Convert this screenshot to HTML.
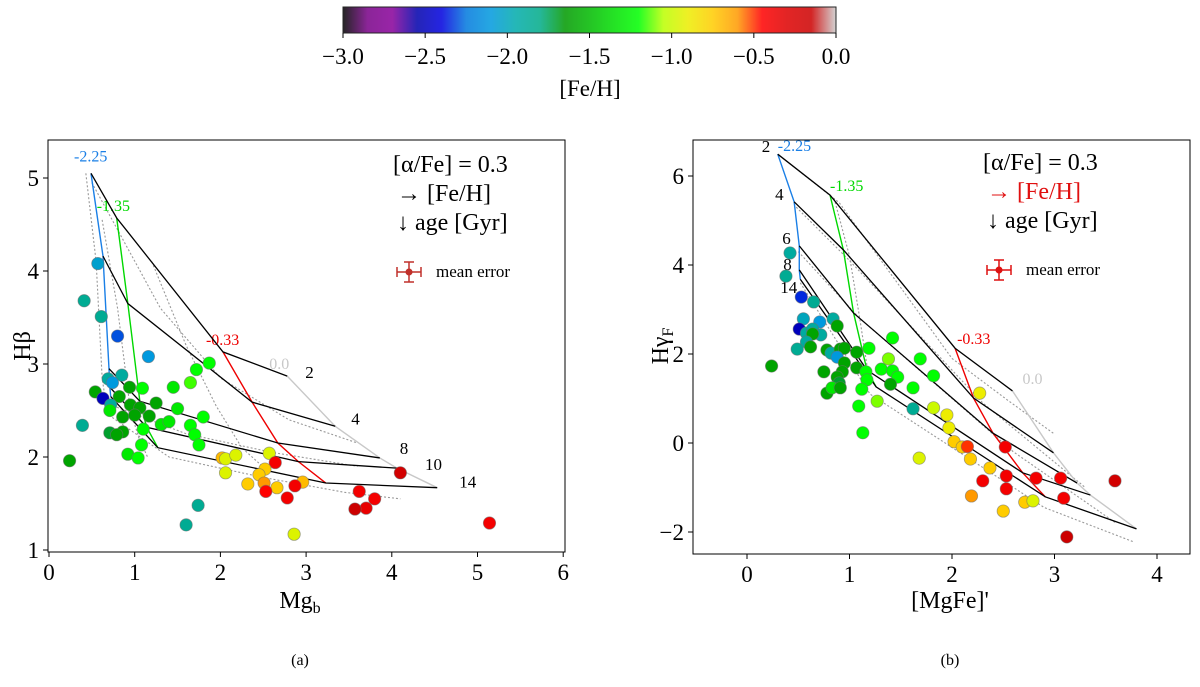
<!DOCTYPE html>
<html><head><meta charset="utf-8"><style>
body{margin:0;background:#fff;width:1200px;height:682px;overflow:hidden}
svg text{font-family:"Liberation Serif",serif}
</style></head><body>
<svg id="fig" width="1200" height="682" viewBox="0 0 1200 682" xmlns="http://www.w3.org/2000/svg">
<defs><linearGradient id="cmap" x1="0" x2="1" y1="0" y2="0"></linearGradient></defs>
<g id="cbar"></g>
<g id="pa"></g>
<g id="pb"></g>
</svg>
<script>
// colormap stops (nipy_spectral)
const cmStops=[[0,0,0,0],[0.05,.47,0,.53],[0.1,.53,0,.6],[0.15,0,0,.67],[0.2,0,0,.87],[0.25,0,.47,.87],[0.3,0,.6,.87],[0.35,0,.67,.67],[0.4,0,.67,.53],[0.45,0,.6,0],[0.5,0,.73,0],[0.55,0,.87,0],[0.6,0,1,0],[0.65,.73,1,0],[0.7,.93,.93,0],[0.75,1,.8,0],[0.8,1,.6,0],[0.85,1,0,0],[0.9,.87,0,0],[0.95,.8,0,0],[1,.8,.8,.8]];
const cbTicks=[-3.0,-2.5,-2.0,-1.5,-1.0,-0.5,0.0];

// Panel a data
const aX=[0.57,0.41,0.61,0.80,1.16,1.87,1.72,1.65,1.45,1.09,0.85,0.94,0.69,0.74,0.54,0.63,0.82,0.72,0.95,1.06,1.25,1.50,1.80,0.86,1.00,1.17,0.71,1.31,1.40,1.65,0.39,0.71,0.86,0.79,1.10,1.70,1.08,1.75,0.92,1.04,0.24,2.02,2.06,2.18,2.57,2.64,2.06,2.52,2.45,2.32,2.51,2.66,2.53,2.96,2.87,2.78,4.10,3.62,3.80,3.70,3.57,1.74,1.60,2.86,5.14];
const aY=[4.08,3.68,3.51,3.30,3.08,3.01,2.94,2.80,2.75,2.74,2.88,2.75,2.84,2.80,2.70,2.63,2.65,2.56,2.56,2.53,2.58,2.52,2.43,2.43,2.45,2.44,2.50,2.35,2.38,2.34,2.34,2.26,2.27,2.24,2.30,2.24,2.13,2.13,2.03,1.99,1.96,1.99,1.98,2.02,2.04,1.94,1.83,1.87,1.81,1.71,1.72,1.67,1.63,1.73,1.69,1.56,1.83,1.63,1.55,1.45,1.44,1.48,1.27,1.17,1.29];
const aFe=[-2.05,-1.85,-1.85,-2.3,-2.1,-1.2,-1.2,-1.15,-1.3,-1.2,-1.9,-1.6,-1.9,-2.1,-1.6,-2.5,-1.6,-1.9,-1.6,-1.6,-1.6,-1.3,-1.2,-1.6,-1.6,-1.6,-1.3,-1.3,-1.3,-1.2,-1.85,-1.7,-1.6,-1.6,-1.2,-1.2,-1.2,-1.2,-1.3,-1.2,-1.6,-0.7,-0.95,-0.95,-0.95,-0.4,-0.95,-0.75,-0.75,-0.75,-0.6,-0.75,-0.45,-0.7,-0.4,-0.4,-0.2,-0.4,-0.4,-0.35,-0.15,-1.85,-1.85,-0.95,-0.4];
const aAges=["2","4","8","10","14"];
const aMets=["-2.25","-1.35","-0.33","0.0"];
const aGX=[[0.49,0.79,2.03,2.78],[0.63,0.92,2.37,3.34],[0.70,1.06,2.67,3.86],[0.71,1.14,2.91,4.06],[0.72,1.27,3.23,4.53]];
const aGY=[[5.05,4.57,3.13,2.87],[4.16,3.65,2.59,2.33],[2.95,2.60,2.15,1.99],[2.75,2.32,1.95,1.88],[2.65,2.10,1.72,1.67]];
const aDotX=[[0.43,0.55,0.62,0.66,0.70],[0.62,0.80,0.95,1.05,1.15],[1.20,1.60,1.95,2.25,2.55],[0.50,1.30,2.00,2.80,3.60],[0.75,1.60,2.60,3.60],[0.70,1.40,2.50,3.45,4.1]];
const aDotY=[[5.05,4.10,2.85,2.60,2.45],[4.55,3.60,2.50,2.20,2.00],[4.10,3.20,2.55,2.10,1.85],[4.95,3.60,2.85,2.40,2.15],[2.55,2.25,2.05,1.90],[2.45,2.00,1.78,1.62,1.55]];

// Panel b data
const bX=[0.42,0.38,0.53,0.65,0.55,0.71,0.84,0.88,0.51,0.58,0.64,0.72,0.64,0.58,0.49,0.62,0.78,0.82,0.91,0.95,1.07,0.88,0.95,0.24,0.75,0.93,1.07,0.88,0.90,0.78,0.83,0.91,1.16,1.17,1.12,1.19,1.31,1.38,1.42,1.47,1.40,1.42,1.62,1.69,1.82,1.09,1.27,1.62,1.13,1.68,1.82,1.95,1.97,2.02,2.10,2.15,2.18,2.27,2.37,2.52,2.53,2.30,2.53,2.19,2.50,2.71,2.79,2.82,3.06,3.09,3.59,3.12];
const bY=[4.27,3.75,3.28,3.17,2.79,2.72,2.79,2.63,2.56,2.47,2.56,2.43,2.45,2.27,2.11,2.16,2.09,2.02,2.11,2.13,2.04,1.93,1.80,1.73,1.60,1.60,1.69,1.48,1.35,1.12,1.24,1.24,1.60,1.42,1.21,2.13,1.66,1.89,1.62,1.48,1.32,2.36,1.24,1.89,1.51,0.83,0.94,0.77,0.23,-0.34,0.79,0.63,0.34,0.03,-0.09,-0.08,-0.36,1.12,-0.56,-0.09,-0.74,-0.85,-1.03,-1.19,-1.53,-1.33,-1.30,-0.79,-0.79,-1.24,-0.85,-2.11];
const bFe=[-1.9,-1.85,-2.35,-1.85,-2.0,-2.1,-1.9,-1.6,-2.5,-1.9,-1.9,-1.9,-1.6,-1.9,-1.85,-1.6,-1.6,-1.9,-1.6,-1.6,-1.6,-2.1,-1.6,-1.6,-1.6,-1.6,-1.6,-1.6,-1.7,-1.6,-1.3,-1.6,-1.2,-1.2,-1.2,-1.2,-1.2,-1.1,-1.2,-1.2,-1.6,-1.2,-1.2,-1.2,-1.2,-1.2,-1.1,-1.85,-1.2,-0.95,-1.0,-0.9,-0.9,-0.75,-0.75,-0.5,-0.75,-0.9,-0.75,-0.4,-0.4,-0.4,-0.4,-0.6,-0.75,-0.75,-0.95,-0.4,-0.4,-0.4,-0.2,-0.15];
const bAges=["2","4","6","8","14"];
const bMets=["-2.25","-1.35","-0.33","0.0"];
const bGX=[[0.30,0.81,2.03,2.59],[0.46,0.94,2.21,2.99],[0.51,1.04,2.40,3.22],[0.51,1.17,2.69,3.35],[0.52,1.26,2.91,3.80]];
const bGY=[[6.49,5.57,2.13,1.17],[5.42,4.34,1.01,-0.22],[4.43,2.92,0.22,-0.90],[3.89,1.64,-0.67,-1.17],[3.68,1.26,-1.21,-1.93]];
const bDotX=[[0.35,0.90,2.00,2.55,3.0],[0.52,1.20,2.90,3.77],[0.50,1.10,2.60,3.60],[0.48,1.00,2.30,3.30],[0.85,1.00,1.10,1.20]];
const bDotY=[[6.40,5.40,1.90,0.95,0.2],[3.60,1.10,-1.45,-2.22],[4.30,2.80,-0.20,-1.80],[5.30,4.10,0.90,-1.00],[5.50,4.20,2.80,1.30]];

const NS="http://www.w3.org/2000/svg";
function mk(tag,attrs,parent){const e=document.createElementNS(NS,tag);for(const k in attrs)e.setAttribute(k,attrs[k]);parent.appendChild(e);return e;}
function cmap(t){t=Math.max(0,Math.min(1,t));for(let i=1;i<cmStops.length;i++){const a=cmStops[i-1],b=cmStops[i];if(t<=b[0]){const f=(t-a[0])/(b[0]-a[0]);const c=[1,2,3].map(j=>Math.round(255*(a[j]+f*(b[j]-a[j]))));return `rgb(${c[0]},${c[1]},${c[2]})`;}}return "rgb(204,204,204)";}
function feColor(v){return cmap((v+3)/3);}

const grad=document.getElementById('cmap');
cmStops.forEach(s=>{mk('stop',{offset:s[0],'stop-color':cmap(s[0])},grad);});
const cb=document.getElementById('cbar');
const cbx=v=>343+(v+3)/3*493;
const cbr=mk('rect',{x:343,y:7,width:493,height:26,fill:'url(#cmap)',stroke:'#000','stroke-width':1,opacity:0.85},cb);


cbTicks.forEach(v=>{mk('line',{x1:cbx(v),x2:cbx(v),y1:33,y2:38,stroke:'#000'},cb);
 const t=mk('text',{x:cbx(v),y:64,'font-size':23,'text-anchor':'middle'},cb);t.textContent=(v<0?'\u2212':'')+Math.abs(v).toFixed(1);
 
 });
const cbl=mk('text',{x:590,y:96,'font-size':23,'text-anchor':'middle'},cb);cbl.textContent='[Fe/H]';



function panel(g,o){
 const sx=v=>o.x0+(v-o.xa)*o.kx, sy=v=>o.y0-(v-o.ya)*o.ky;
 const ax=mk('rect',{x:o.L,y:o.T,width:o.R-o.L,height:o.B-o.T,fill:'none',stroke:'#000','stroke-width':1},g);
 
 
 o.xt.forEach(v=>{const X=sx(v);mk('line',{x1:X,x2:X,y1:o.B,y2:o.B+5,stroke:'#000'},g);
  const t=mk('text',{x:X,y:o.B+28,'font-size':23,'text-anchor':'middle'},g);t.textContent=(v<0?'\u2212':'')+Math.abs(v);
  
  });
 o.yt.forEach(v=>{const Y=sy(v);mk('line',{x1:o.L-5,x2:o.L,y1:Y,y2:Y,stroke:'#000'},g);
  const t=mk('text',{x:o.L-9,y:Y+8,'font-size':23,'text-anchor':'end'},g);t.textContent=(v<0?'\u2212':'')+Math.abs(v);
  
  });
 o.dx.forEach((xs,i)=>{const p=mk('polyline',{points:xs.map((x,j)=>sx(x)+','+sy(o.dy[i][j])).join(' '),fill:'none',stroke:'#999','stroke-width':1.1,'stroke-dasharray':'2,2'},g);
  
  });
 const mcol=['#1a7fe6','#00d800','#ee0000','#c8c8c8'];
 for(let m=0;m<4;m++){const pts=o.gx.map((r,i)=>sx(r[m])+','+sy(o.gy[i][m])).join(' ');
  const p=mk('polyline',{points:pts,fill:'none',stroke:mcol[m],'stroke-width':1.4},g);
  
  
  const t=mk('text',{x:sx(o.gx[0][m])+o.mlo[m][0],y:sy(o.gy[0][m])+o.mlo[m][1],'font-size':16,fill:mcol[m]},g);t.textContent=o.mets[m];
  
  }
 o.gx.forEach((r,i)=>{const p=mk('polyline',{points:r.map((x,j)=>sx(x)+','+sy(o.gy[i][j])).join(' '),fill:'none',stroke:'#000','stroke-width':1.3},g);
  
  
  const lp=o.alo[i];const t=mk('text',{x:sx(lp[2]?r[0]:r[3])+lp[0],y:sy(lp[2]?o.gy[i][0]:o.gy[i][3])+lp[1],'font-size':17},g);t.textContent=o.ages[i];
  
  });
 o.px.forEach((x,i)=>{const c=mk('circle',{cx:sx(x),cy:sy(o.py[i]),r:6.2,fill:feColor(o.fe[i]),stroke:'rgba(110,110,110,0.6)','stroke-width':0.8},g);
  
  });
 const lg=o.lg;
 [['[α/Fe] = 0.3','#000',0],['→ [Fe/H]',o.arrowCol,1],['↓ age [Gyr]','#000',2]].forEach(a=>{const t=mk('text',{x:lg[0]+(a[2]?4:0),y:lg[1]+a[2]*29,'font-size':24,fill:a[1]},g);t.textContent=a[0];
  
  });
 const ex=lg[0]+16,ey=lg[1]+100;
 const eg=mk('g',{},g);
 
 
 mk('line',{x1:ex-12,x2:ex+12,y1:ey,y2:ey,stroke:o.ecol,'stroke-width':1.5},eg);
 mk('line',{x1:ex,x2:ex,y1:ey-10,y2:ey+10,stroke:o.ecol,'stroke-width':1.5},eg);
 [[ex-12,ey-5,ex-12,ey+5],[ex+12,ey-5,ex+12,ey+5],[ex-5,ey-10,ex+5,ey-10],[ex-5,ey+10,ex+5,ey+10]].forEach(l=>mk('line',{x1:l[0],y1:l[1],x2:l[2],y2:l[3],stroke:o.ecol,'stroke-width':1.5},eg));
 mk('circle',{cx:ex,cy:ey,r:3.5,fill:o.ecol},eg);
 const me=mk('text',{x:ex+27,y:ey+5,'font-size':17},eg);me.textContent='mean error';
 const xl=mk('text',{x:o.xlab[0],y:o.xlab[1],'font-size':24,'text-anchor':'middle'},g);xl.innerHTML=o.xlt;
 
 
 const yl=mk('text',{x:0,y:0,'font-size':24,'text-anchor':'middle',transform:`translate(${o.ylab[0]},${o.ylab[1]}) rotate(-90)`},g);yl.innerHTML=o.ylt;
 
 
 const cap=mk('text',{x:o.cap[0],y:o.cap[1],'font-size':16,'text-anchor':'middle'},g);cap.textContent=o.capt;
 
 
}
panel(document.getElementById('pa'),{L:48,R:565,T:140,B:552,x0:49,xa:0,kx:85.7,y0:550,ya:1,ky:93,
 xt:[0,1,2,3,4,5,6],yt:[1,2,3,4,5],px:aX,py:aY,fe:aFe,gx:aGX,gy:aGY,dx:aDotX,dy:aDotY,mets:aMets,ages:aAges,
 mlo:[[-17,-12],[-20,-7],[-17,-7],[-18,-7]],alo:[[18,2],[16,-2],[20,-4],[28,2],[22,0]],
 lg:[393,172],arrowCol:'#000',ecol:'#c0302a',xlab:[300,608],xlt:'Mg<tspan font-size="16" dy="5">b</tspan>',ylab:[30,346],ylt:'Hβ',cap:[300,665],capt:'(a)'});
panel(document.getElementById('pb'),{L:693,R:1190,T:140,B:554,x0:747,xa:0,kx:102.5,y0:443,ya:0,ky:44.5,
 xt:[0,1,2,3,4],yt:[-2,0,2,4,6],px:bX,py:bY,fe:bFe,gx:bGX,gy:bGY,dx:bDotX,dy:bDotY,mets:bMets,ages:bAges,
 mlo:[[0,-3],[0,-4],[2,-4],[10,-7]],alo:[[-16,-2,1],[-19,-2,1],[-17,-2,1],[-16,0,1],[-20,14,1]],
 lg:[983,170],arrowCol:'#e01010',ecol:'#dd1111',xlab:[950,608],xlt:"[MgFe]'",ylab:[668,346],ylt:'Hγ<tspan font-size="16" dy="5">F</tspan>',cap:[950,665],capt:'(b)'});
</script>
</body></html>
